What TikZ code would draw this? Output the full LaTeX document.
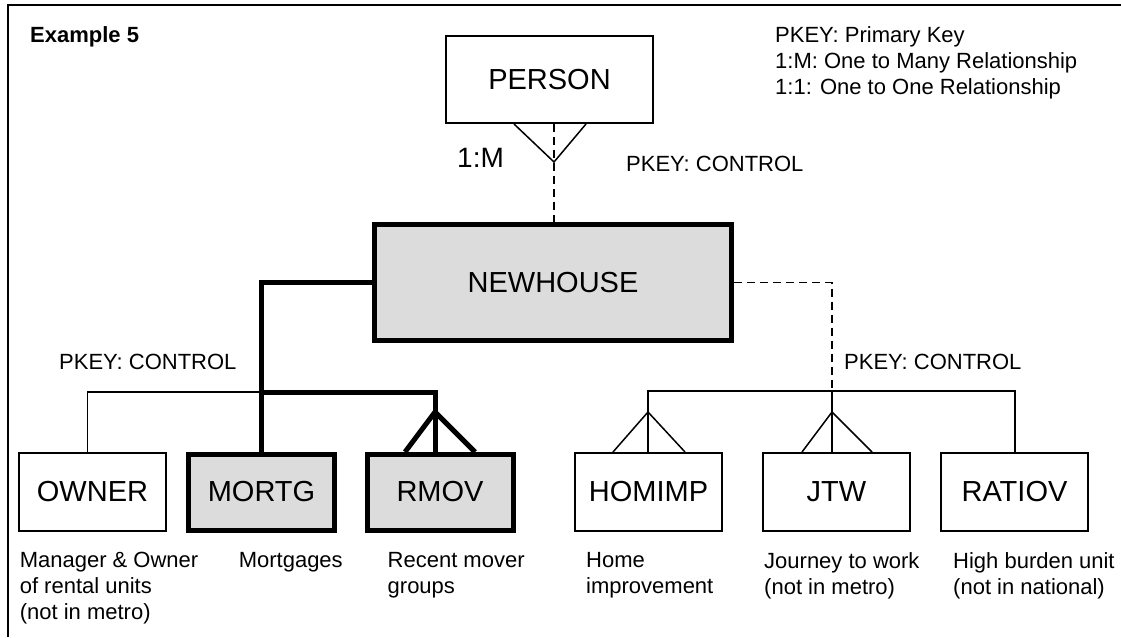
\documentclass[tikz,border=0pt]{standalone}
\usepackage{fontspec}
\setmainfont{Liberation Sans}
\definecolor{keygray}{HTML}{DCDCDC}
\newcommand\entfont{\fontsize{29}{34}\selectfont}
\newcommand\notefont{\fontsize{22}{26}\selectfont}

\begin{document}
\begin{tikzpicture}[x=1pt,y=-1pt,
    entity/.style={draw,line width=1.5pt,minimum width=147pt,minimum height=78pt,inner sep=0pt,font=\entfont},
    keyentity/.style={entity,fill=keygray,line width=5pt,minimum width=146pt,minimum height=76pt},
    note/.style={inner sep=0pt,align=left,font=\notefont},
    link/.style={line width=1.5pt},
    keylink/.style={line width=5pt},
    dashlink/.style={line width=1.5pt,dash pattern=on 8pt off 5pt}]
    \useasboundingbox (0,0) rectangle (1121,637);
    %%%%% THE FRAME
    \draw[line width=2pt] (7.5,637) -- (7.5,5) -- (1121,5);
    \node[note,font=\bfseries\notefont,anchor=base west] (TITLE) at (30,42) {Example 5};
    \node[note,anchor=north west] (LEGEND) at (775,26)
      {PKEY: Primary Key\\1:M: One to Many Relationship\\1:1: One to One Relationship};
    %%%%% THE ENTITIES
    \node[entity,minimum width=207pt,minimum height=87pt] (PERSON) at (549.5,79.5) {PERSON};
    \node[keyentity,minimum width=357pt,minimum height=116pt] (NEWHOUSE) at (553,282.5) {NEWHOUSE};
    \node[entity] (OWNER) at (92.5,492) {OWNER};
    \node[keyentity] (MORTG) at (261.5,492) {MORTG};
    \node[keyentity] (RMOV) at (440,492) {RMOV};
    \node[entity] (HOMIMP) at (648.5,492) {HOMIMP};
    \node[entity] (JTW) at (836.5,492) {JTW};
    \node[entity] (RATIOV) at (1014.5,492) {RATIOV};
    % Join points of the links
    \coordinate (PERSON-foot) at (554,162);
    \coordinate (LBAR) at (261,392);
    \coordinate (RBAR) at (832,391);
    \coordinate (OWNER-top) at (87.5,452);
    \coordinate (RMOV-foot) at (435,412);
    \coordinate (HOMIMP-foot) at (648,412);
    \coordinate (JTW-foot) at (832,412);
    \coordinate (RATIOV-top) at (1015,452);
    %%%%% THE LINKS
    \draw[dashlink] (PERSON-foot |- PERSON.south) -- (PERSON-foot |- NEWHOUSE.north);
    \draw[link] (PERSON-foot) ++(-40,-38) -- (PERSON-foot) -- ++(32,-38);
    \draw[keylink] (NEWHOUSE.west) -| (LBAR |- MORTG.north);
    \draw[keylink] (LBAR) -| (RMOV-foot |- RMOV.north);
    \draw[keylink] (RMOV-foot) ++(-30,40) -- (RMOV-foot) -- ++(40,40);
    \draw[link] (LBAR) -| (OWNER-top);
    \draw[dashlink] (NEWHOUSE.east) -| (RBAR);
    \draw[link] (HOMIMP-foot |- HOMIMP.north) |- (RBAR) -| (RATIOV-top);
    \draw[link] (RBAR) -- (JTW-foot |- JTW.north);
    \draw[link] (HOMIMP-foot) ++(-35,40) -- (HOMIMP-foot) -- ++(37,40);
    \draw[link] (JTW-foot) ++(-30,40) -- (JTW-foot) -- ++(40,40);
    %%%%% THE LABELS
    \node[note,font=\fontsize{28}{32}\selectfont,anchor=base west] (CARD) at (457,167) {1:M};
    \node[note,anchor=base west] (KEY-TOP) at (626,171) {PKEY: CONTROL};
    \node[note,anchor=base west] (KEY-LEFT) at (59,369) {PKEY: CONTROL};
    \node[note,anchor=base west] (KEY-RIGHT) at (844,369) {PKEY: CONTROL};
    \node[note,anchor=north west] (OWNER-text) at (19.6,552) {Manager \& Owner\\of rental units\\(not in metro)};
    \node[note,anchor=north west] (MORTG-text) at (238.6,552) {Mortgages};
    \node[note,anchor=north west] (RMOV-text) at (387.5,552) {Recent mover\\groups};
    \node[note,anchor=north west] (HOMIMP-text) at (586,552) {Home\\improvement};
    \node[note,anchor=north west] (JTW-text) at (764,552) {Journey to work\\(not in metro)};
    \node[note,anchor=north west] (RATIOV-text) at (953,552) {High burden unit\\(not in national)};
\end{tikzpicture}
\end{document}
